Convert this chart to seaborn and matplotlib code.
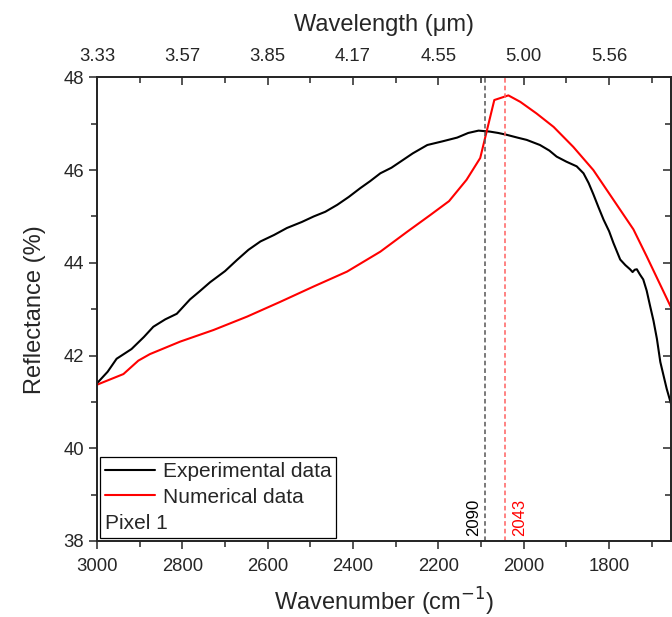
import numpy as np
import pandas as pd
import seaborn as sns
import matplotlib.pyplot as plt
from matplotlib.lines import Line2D
from matplotlib.ticker import MultipleLocator

# experimental spectrum
exp_wn = [3000, 2975, 2954, 2919, 2890, 2868, 2840, 2813, 2782, 2760, 2735, 2700,
          2672, 2645, 2617, 2585, 2555, 2520, 2492, 2465, 2437, 2410, 2383, 2360,
          2336, 2310, 2289, 2260, 2226, 2190, 2156, 2130, 2106, 2080, 2060, 2040,
          2015, 1993, 1962, 1940, 1923, 1900, 1876, 1860, 1848, 1837, 1825, 1813,
          1800, 1790, 1774, 1762, 1751, 1745, 1740, 1735, 1728, 1720, 1712, 1704,
          1696, 1688, 1680, 1672, 1665, 1655]
exp_r = [41.40, 41.65, 41.93, 42.14, 42.40, 42.62, 42.78, 42.90, 43.21, 43.38, 43.58, 43.82,
         44.06, 44.28, 44.46, 44.60, 44.75, 44.88, 45.00, 45.10, 45.25, 45.42, 45.61, 45.76,
         45.93, 46.05, 46.18, 46.36, 46.54, 46.62, 46.70, 46.80, 46.85, 46.83, 46.80, 46.76,
         46.70, 46.65, 46.54, 46.42, 46.29, 46.18, 46.08, 45.93, 45.72, 45.48, 45.20, 44.93,
         44.68, 44.43, 44.07, 43.95, 43.86, 43.80, 43.85, 43.86, 43.75, 43.64, 43.40, 43.07,
         42.75, 42.36, 41.86, 41.55, 41.28, 40.96]

# numerical model
num_wn = [3000, 2938, 2903, 2876, 2805, 2727, 2648, 2570, 2492, 2414, 2336, 2273,
          2219, 2175, 2134, 2102, 2069, 2036, 2008, 1970, 1930, 1884, 1837, 1790,
          1743, 1712, 1655]
num_r = [41.37, 41.60, 41.89, 42.03, 42.30, 42.55, 42.84, 43.16, 43.49, 43.81, 44.24, 44.67,
         45.03, 45.33, 45.79, 46.26, 47.51, 47.61, 47.47, 47.22, 46.93, 46.50, 46.00, 45.36,
         44.72, 44.14, 43.04]

peak_exp = 2090
peak_num = 2043

xticks = [3000, 2800, 2600, 2400, 2200, 2000, 1800]
top_labels = ['3.33', '3.57', '3.85', '4.17', '4.55', '5.00', '5.56']

df_exp = pd.DataFrame({'wn': exp_wn, 'R': exp_r})
df_num = pd.DataFrame({'wn': num_wn, 'R': num_r})

sns.set_style('ticks')
plt.rcParams['font.family'] = ['Liberation Sans', 'DejaVu Sans']
plt.rcParams['axes.linewidth'] = 1.1

fig = plt.figure(figsize=(6.72, 6.17), dpi=100)
ax = fig.add_axes([0.1443, 0.1232, 0.8542, 0.7515])

sns.lineplot(data=df_exp, x='wn', y='R', color='black', lw=1.5, ax=ax,
             sort=False, estimator=None)
sns.lineplot(data=df_num, x='wn', y='R', color='red', lw=1.5, ax=ax,
             sort=False, estimator=None)

ax.axvline(peak_exp, color='#555555', ls=(0, (3, 2)), lw=1.1)
ax.axvline(peak_num, color='#ff6060', ls=(0, (3, 2)), lw=1.1)
ax.text(peak_exp + 9, 38.1, str(peak_exp), rotation=90, ha='right', va='bottom',
        fontsize=12, color='black')
ax.text(peak_num - 16, 38.1, str(peak_num), rotation=90, ha='left', va='bottom',
        fontsize=12, color='red')

ax.set_xlim(3000, 1655)
ax.set_ylim(38, 48)
ax.set_xticks(xticks)
ax.xaxis.set_minor_locator(MultipleLocator(100))
ax.yaxis.set_major_locator(MultipleLocator(2))
ax.yaxis.set_minor_locator(MultipleLocator(1))
ax.tick_params(which='major', length=6, width=1.1, labelsize=13.3, direction='out')
ax.tick_params(axis='x', which='major', pad=6)
ax.tick_params(which='minor', length=4, width=1.1, direction='out')
ax.set_xlabel('Wavenumber (cm$^{-1}$)', fontsize=17, labelpad=8)
ax.set_ylabel('Reflectance (%)', fontsize=17, labelpad=12)

# top wavelength axis
top = ax.twiny()
top.set_xlim(ax.get_xlim())
top.set_xticks(xticks)
top.set_xticklabels(top_labels)
top.xaxis.set_minor_locator(MultipleLocator(100))
top.tick_params(which='major', length=6, width=1.1, labelsize=13.3, direction='in', pad=9)
top.tick_params(which='minor', length=4, width=1.1, direction='in')
top.set_xlabel('Wavelength (μm)', fontsize=17, labelpad=12)

# right axis ticks
right = ax.twinx()
right.set_ylim(ax.get_ylim())
right.yaxis.set_major_locator(MultipleLocator(2))
right.yaxis.set_minor_locator(MultipleLocator(1))
right.tick_params(which='major', length=6, width=1.1, direction='in', labelright=False)
right.tick_params(which='minor', length=4, width=1.1, direction='in')

handles = [Line2D([], [], color='black', lw=1.5), Line2D([], [], color='red', lw=1.5)]
leg = ax.legend(handles, ['Experimental data', 'Numerical data'], title='Pixel 1',
                loc='lower left', fontsize=15, title_fontsize=15, frameon=True,
                fancybox=False, edgecolor='black', framealpha=1, borderaxespad=0.15,
                handlelength=2.4, handletextpad=0.35, labelspacing=0.33,
                borderpad=0.25, alignment='left')
leg.get_frame().set_linewidth(0.9)
box = leg._legend_box
box._children = box._children[::-1]

fig.savefig('out.png', dpi=100)
